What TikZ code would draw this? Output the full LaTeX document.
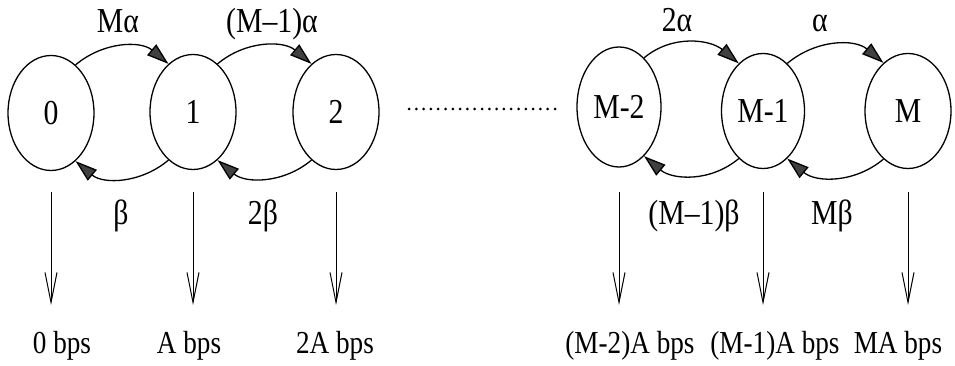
\documentclass[tikz,border=0pt]{standalone}
\usepackage{fontspec}
\setmainfont{Liberation Serif}[FakeStretch=0.85]
\usetikzlibrary{shapes.geometric,arrows.meta}

\begin{document}
\begin{tikzpicture}[x=1pt,y=1pt,
  state/.style={draw, ellipse, line width=1.3pt, minimum width=86pt,
    minimum height=115pt, inner sep=0pt, font=\fontsize{35}{40}\selectfont},
  rate/.style={anchor=base, inner sep=0pt, font=\fontsize{35}{40}\selectfont},
  outlabel/.style={anchor=base, inner sep=0pt, font=\fontsize{32}{36}\selectfont},
  trans/.style={line width=1.3pt,
    -{Triangle[length=22pt,width=14pt,fill=black!75]}},
  emit/.style={line width=1pt, -{Straight Barb[length=30pt,width=12pt]}},
  dots/.style={line width=3pt, line cap=round, dash pattern=on 0pt off 7.3pt}]

  \useasboundingbox (0,0) rectangle (955,366);

  % states
  \node[state] (n0)  at (51,253)  {0};
  \node[state] (n1)  at (193,254) {1};
  \node[state] (n2)  at (336,254) {2};
  \node[state, minimum width=84pt, minimum height=120pt] (nM2) at (619,259) {M-2};
  \node[state, minimum width=83pt] (nM1) at (763,255) {M-1};
  \node[state] (nM)  at (908,255) {M};

  % ellipsis between the two groups
  \coordinate (dl) at (409,257);
  \coordinate (dr) at (555,257);
  \draw[dots] (dl) -- (dr);

  % birth transitions (upper arcs) and death transitions (lower arcs)
  \foreach \a/\b in {n0/n1, n1/n2, nM2/nM1, nM1/nM} {
    \draw[trans] (\a.63) to[out=40,in=140] (\b.117);
    \draw[trans] (\b.243) to[out=-140,in=-40] (\a.297);
  }

  % rate labels
  \node[rate] (ra1) at (118,333) {Mα};
  \node[rate] (ra2) at (272,333) {(M–1)α};
  \node[rate] (ra3) at (677,334) {2α};
  \node[rate] (ra4) at (820,334) {α};
  \node[rate] (rb1) at (121,141) {β};
  \node[rate] (rb2) at (263,141) {2β};
  \node[rate] (rb3) at (694,141) {(M–1)β};
  \node[rate] (rb4) at (832,141) {Mβ};

  % output rates
  \coordinate (linetop) at (0,174);
  \coordinate (linetip) at (0,61);
  \foreach \s in {n0,n1,n2,nM2,nM1,nM}
    \draw[emit] (\s |- linetop) -- (\s |- linetip);

  \node[outlabel] (o0)  at (62,12)  {0 bps};
  \node[outlabel] (o1)  at (189,12) {A bps};
  \node[outlabel] (o2)  at (335,12) {2A bps};
  \node[outlabel] (oM2) at (630,12) {(M-2)A bps};
  \node[outlabel] (oM1) at (775,12) {(M-1)A bps};
  \node[outlabel] (oM)  at (898,12) {MA bps};
\end{tikzpicture}
\end{document}
